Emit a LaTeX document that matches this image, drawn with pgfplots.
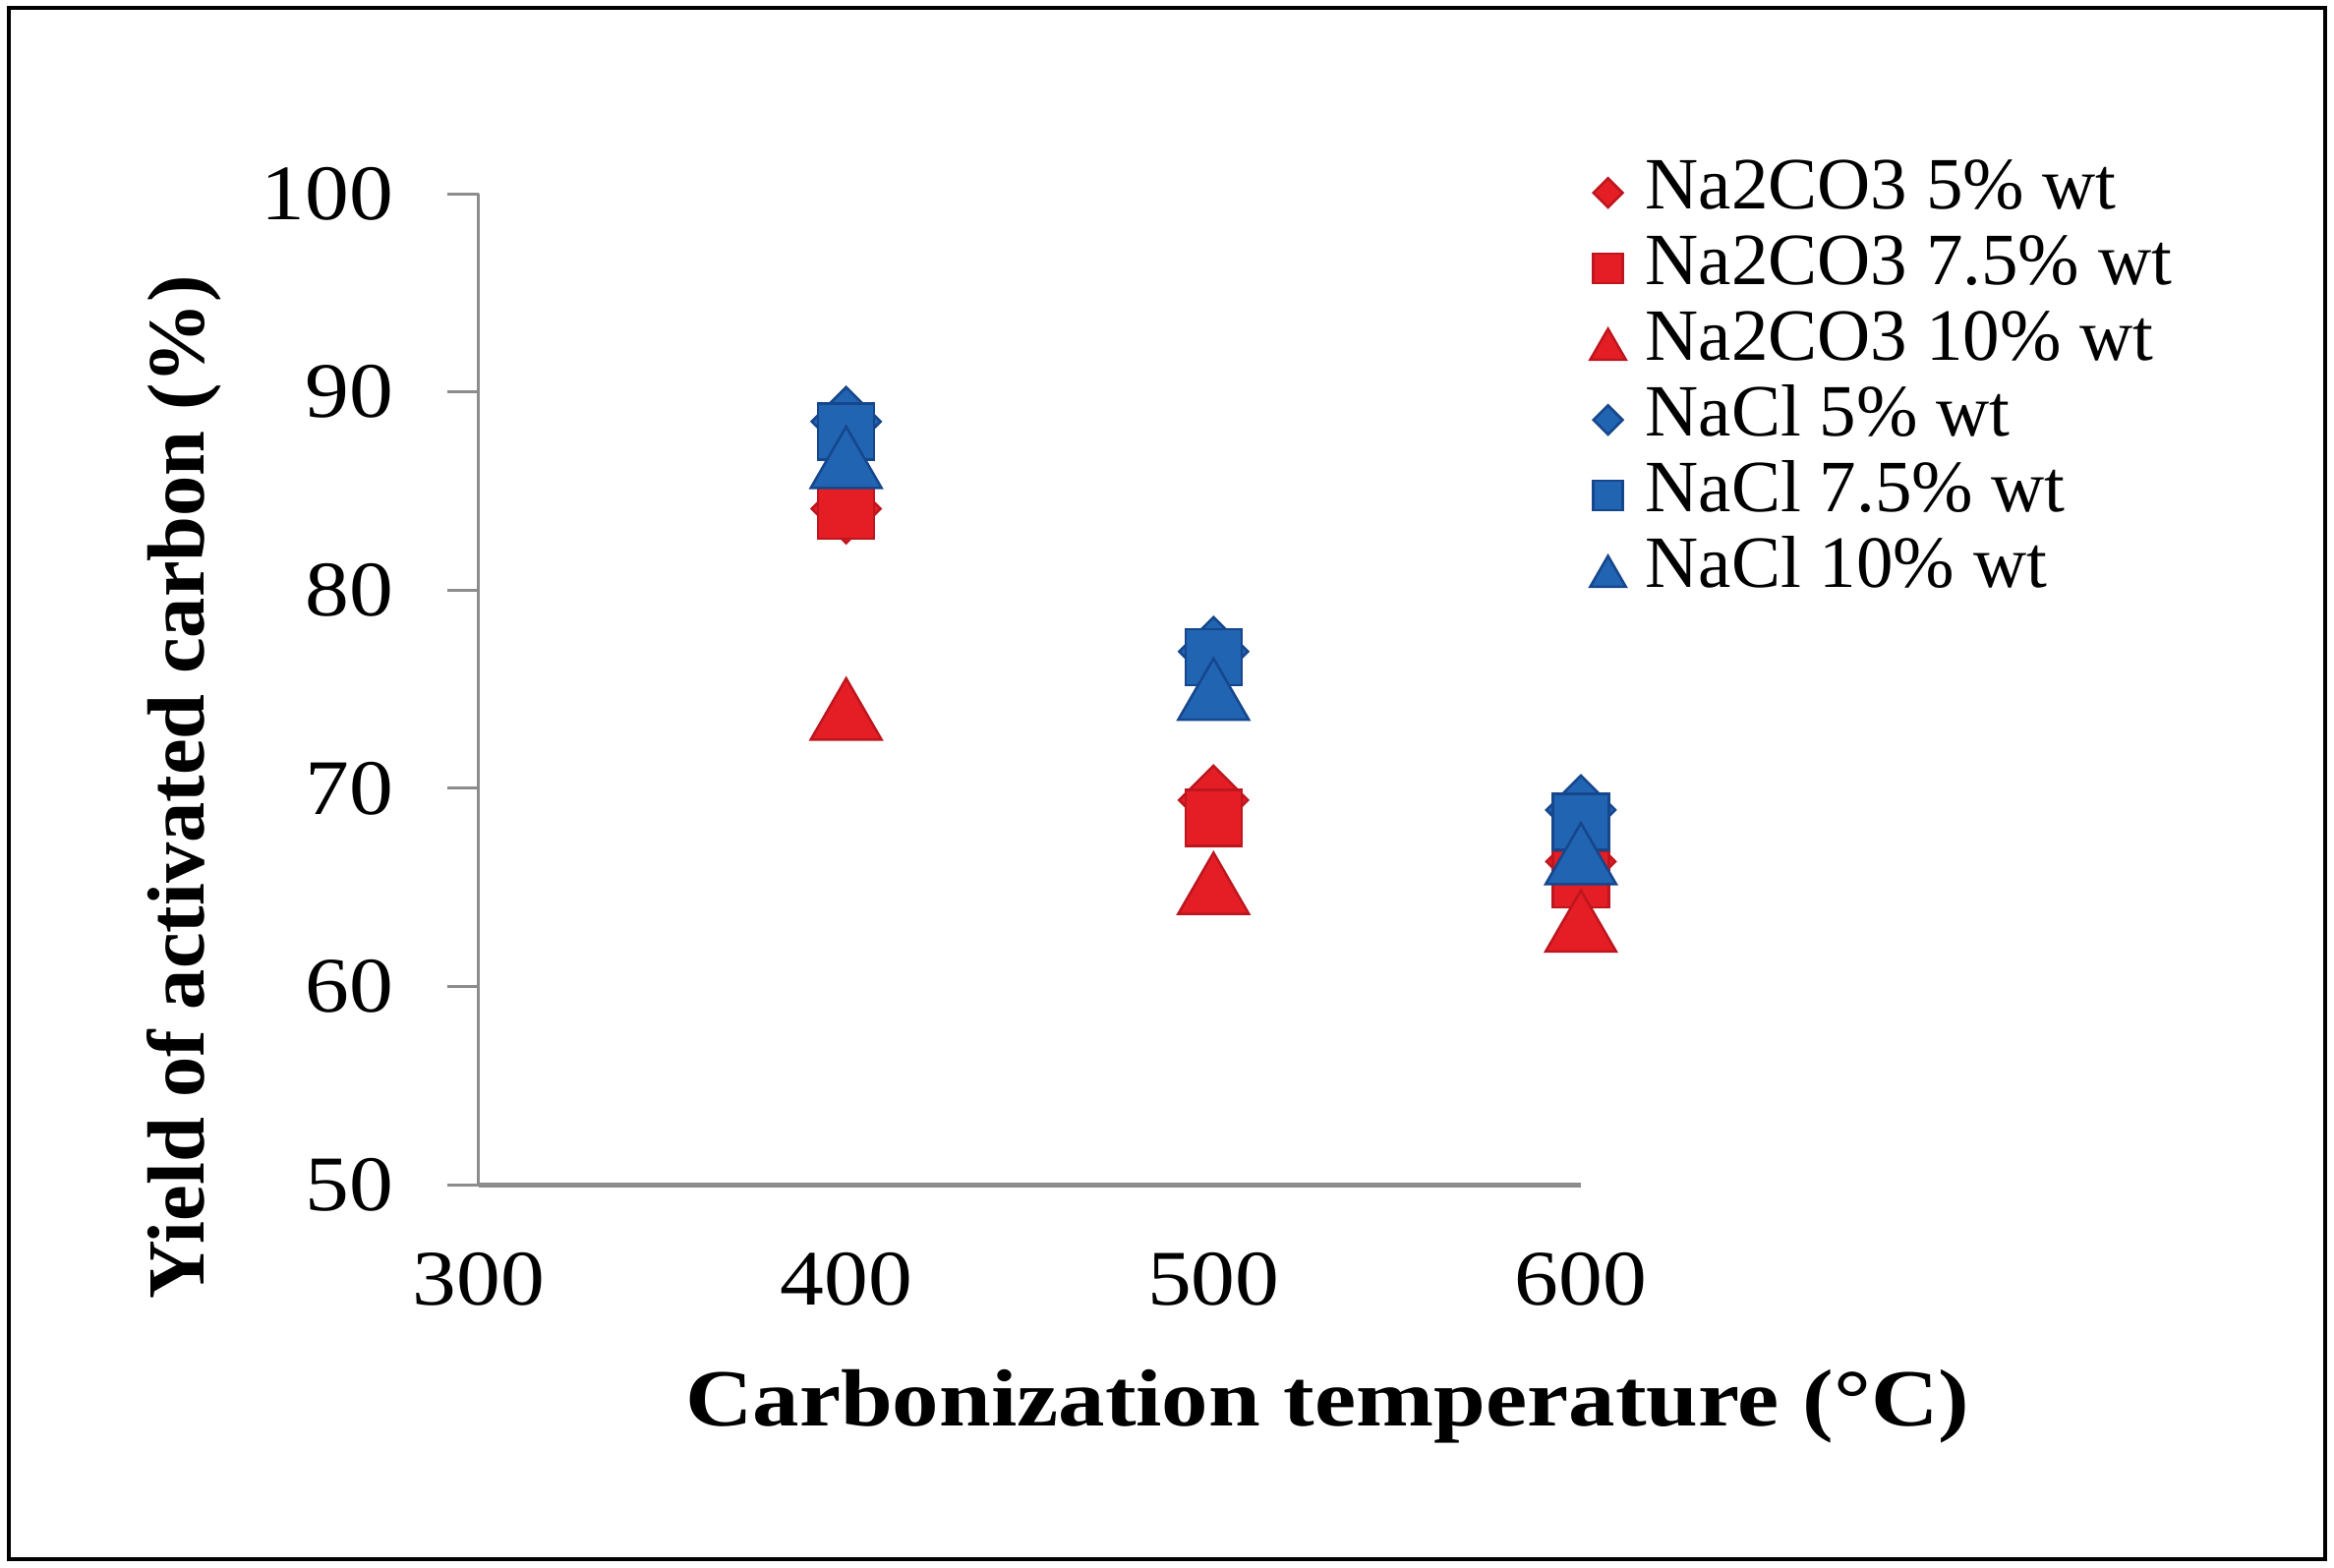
\documentclass[border=0pt]{standalone}
\usepackage{fontspec}
\setmainfont{Liberation Serif}
\newfontfamily\tickfont[FakeStretch=1.12]{Liberation Serif}
\newfontfamily\labfont[FakeStretch=1.15]{Liberation Serif}
\usepackage{pgfplots}
\pgfplotsset{compat=1.18}
\definecolor{cred}{RGB}{228,30,36}
\definecolor{dred}{RGB}{190,22,30}
\definecolor{cblue}{RGB}{32,100,178}
\definecolor{dblue}{RGB}{22,70,140}
\definecolor{axgray}{RGB}{140,140,140}
\begin{document}
\begin{tikzpicture}
\useasboundingbox (-97.4pt,-78pt) rectangle (377.4pt,241pt);
\draw[line width=0.8pt] (-95.6pt,-76.2pt) rectangle (375.6pt,239.4pt);
\begin{axis}[
  at={(0pt,0pt)}, anchor=south west,
  scale only axis, width=224.2pt, height=201.6pt,
  xmin=300, xmax=600, ymin=50, ymax=100,
  xtick={300,400,500,600}, ytick={50,60,70,80,90,100},
  axis x line*=bottom, axis y line*=left,
  x axis line style={axgray, line width=1pt},
  y axis line style={axgray, line width=0.6pt},
  tick align=outside,
  major tick length=6.4pt,
  xtick style={draw=none},
  ytick style={axgray, line width=0.6pt},
  /pgf/number format/assume math mode=true,
  /pgf/number format/1000 sep={},
  ticklabel style={font=\tickfont\fontsize{16}{19}\selectfont},
  xticklabel style={anchor=north, yshift=-4pt},
  yticklabel style={anchor=east, xshift=-7.5pt},
  clip=false,
  xlabel={Carbonization temperature (°C)},
  xlabel style={at={(axis description cs:0.770,-0.2235)}, anchor=center, font=\labfont\bfseries\fontsize{16.5}{20}\selectfont},
  ylabel={Yield of activated carbon (\%)},
  ylabel style={at={(axis description cs:-0.2676,0.4008)}, anchor=center, font=\bfseries\fontsize{16.5}{20}\selectfont},
  legend cell align=left,
  legend image code/.code={\draw[#1, only marks] plot coordinates {(0pt,0pt)};},
  legend style={draw=none, fill=none, at={(axis description cs:1.0075,1.040)}, anchor=north west,
    font=\fontsize{15}{15}\selectfont, inner sep=0pt, row sep=0pt, column sep=4pt,
    nodes={inner sep=0pt, text height=11pt, text depth=4.4pt}},
]
\addplot[only marks, mark=square*, mark size=4.95pt, mark options={rotate=45, draw=dred, fill=cred, line width=0.5pt}, legend image post style={mark size=2.1pt}]
  coordinates {(400,84.1) (500,69.4) (600,66.3)};
\addlegendentry{Na2CO3 5\% wt}
\addplot[only marks, mark=square*, mark size=5.7pt, mark options={draw=dred, fill=cred, line width=0.5pt}, legend image post style={mark size=3pt}]
  coordinates {(400,84.0) (500,68.5) (600,65.4)};
\addlegendentry{Na2CO3 7.5\% wt}
\addplot[only marks, mark=triangle*, mark size=8.3pt, mark options={yshift=-0.25\pgfplotmarksize, draw=dred, fill=cred, line width=0.5pt}, legend image post style={mark size=4.2pt}]
  coordinates {(400,74.0) (500,65.2) (600,63.3)};
\addlegendentry{Na2CO3 10\% wt}
\addplot[only marks, mark=square*, mark size=4.95pt, mark options={rotate=45, draw=dblue, fill=cblue, line width=0.5pt}, legend image post style={mark size=2.1pt}]
  coordinates {(400,88.5) (500,76.9) (600,68.9)};
\addlegendentry{NaCl 5\% wt}
\addplot[only marks, mark=square*, mark size=5.7pt, mark options={draw=dblue, fill=cblue, line width=0.5pt}, legend image post style={mark size=3pt}]
  coordinates {(400,88.0) (500,76.6) (600,68.3)};
\addlegendentry{NaCl 7.5\% wt}
\addplot[only marks, mark=triangle*, mark size=8.3pt, mark options={yshift=-0.25\pgfplotmarksize, draw=dblue, fill=cblue, line width=0.5pt}, legend image post style={mark size=4.2pt}]
  coordinates {(400,86.7) (500,75.0) (600,66.7)};
\addlegendentry{NaCl 10\% wt}
\end{axis}
\end{tikzpicture}
\end{document}
